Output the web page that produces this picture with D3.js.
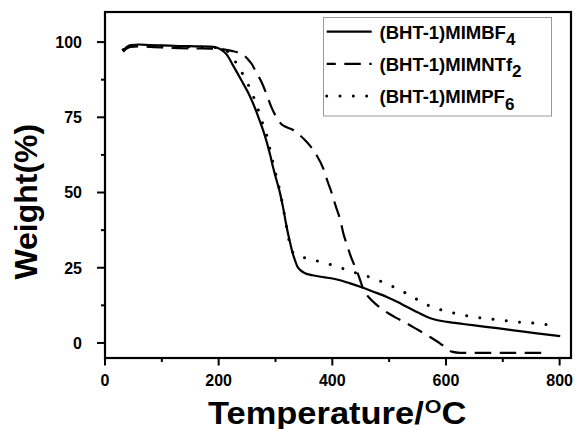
<!DOCTYPE html>
<html><head><meta charset="utf-8">
<script src="https://cdn.jsdelivr.net/npm/d3@7/dist/d3.min.js"></script>
<style>
html,body{margin:0;padding:0;background:#fff;}
text{font-family:"Liberation Sans",Arial,sans-serif;font-weight:bold;}
</style></head>
<body><svg id="c" width="577" height="429"></svg>
<script>
// ---- data ----
const xTicks = [0, 200, 400, 600, 800];
const xMinor = [100, 300, 500, 700];
const yTicks = [0, 25, 50, 75, 100];
const yMinor = [12.5, 37.5, 62.5, 87.5];

const bf4T = [32,38,45,60,80,100,130,160,185,196,205,214,226,240,255,263,270,278,285,291,296,302,308,314,318,321,326,330,334.5,338,343,352,365,380,395,410,430,449,470,496,515,531,550,566,580,602,630,660,690,719,760,801];
const bf4W = [97.0,98.3,99.0,99.2,99.0,98.9,98.7,98.6,98.5,98.2,97.4,95.9,92.0,87.3,82.0,78.5,75.0,70.8,66.5,62.2,58.2,54.0,49.8,44.4,40.2,37.3,33.1,30.0,27.4,25.6,24.3,23.2,22.5,22.0,21.6,21.0,19.9,18.7,17.2,15.3,13.6,12.0,10.2,8.7,7.8,7.0,6.3,5.6,4.9,4.2,3.2,2.3];

const ntfT = [32,38,45,60,80,100,130,160,190,211,225,235,243,250,258,266,276,285,293,300,311,321,331,340,350,361,372,384,392,399,406,414,420,426,433,440,447,455,465,477,490,510,531,552,572,590,602,610,625,700,780];
const ntfW = [96.8,97.8,98.4,98.6,98.4,98.2,98.0,97.9,97.8,97.5,97.0,96.5,95.9,94.6,92.8,90.0,86.5,82.3,78.3,75.6,72.6,71.6,70.8,69.5,67.8,65.5,62.5,58.0,53.5,49.8,45.5,40.9,36.0,32.5,28.5,25.3,22.0,17.6,15.0,12.8,10.9,8.6,6.5,4.2,2.0,-0.2,-1.9,-2.9,-3.3,-3.3,-3.3];

const pf6T = [32,38,45,60,80,100,130,160,190,205,215,225,233,246,261,270,276,285,290.5,296,302,308,314,320,326,331,337,346,372,396,422,446,472,496,522,549,572,597,622,646,672,696,722,748,772,797];
const pf6W = [97.5,98.3,98.8,98.9,98.8,98.6,98.4,98.3,98.2,98.0,97.0,94.8,92.4,88.1,82.0,77.3,73.7,68.7,64.2,59.5,55.0,50.3,44.5,38.0,32.3,30.0,29.2,28.6,27.3,26.1,24.5,23.0,21.5,19.6,17.3,14.5,12.2,10.7,9.6,8.7,8.1,7.6,7.0,6.7,6.2,5.6];

const seriesNames = ["(BHT-1)MIMBF", "(BHT-1)MIMNTf", "(BHT-1)MIMPF"];
const seriesSubs = ["4", "2", "6"];

// ---- chart ----
const svg = d3.select("#c");
const x = d3.scaleLinear().domain([0, 820]).range([105, 571]);
const y = d3.scaleLinear().domain([-5, 110]).range([358, 12]);

const styles = [
  {dash: null, width: 2.2, cap: "butt"},
  {dash: "16.5,8.5", width: 2.2, cap: "butt"},
  {dash: "0.01,13.3", width: 3, cap: "round"}
];
const series = [
  bf4T.map((t,i)=>[t,bf4W[i]]),
  ntfT.map((t,i)=>[t,ntfW[i]]),
  pf6T.map((t,i)=>[t,pf6W[i]])
];
const line = d3.line().x(d=>x(d[0])).y(d=>y(d[1])).curve(d3.curveMonotoneX);
series.forEach((s,i)=>{
  svg.append("path").attr("d", line(s)).attr("fill","none").attr("stroke","#000")
    .attr("stroke-width", styles[i].width).attr("stroke-linecap", styles[i].cap)
    .attr("stroke-dasharray", styles[i].dash);
});

// ticks (drawn via scales)
const tg = svg.append("g").attr("stroke","#000").attr("stroke-width",2);
xTicks.forEach(v=>tg.append("line").attr("x1",x(v)).attr("x2",x(v)).attr("y1",358).attr("y2",365.5));
xMinor.forEach(v=>tg.append("line").attr("x1",x(v)).attr("x2",x(v)).attr("y1",358).attr("y2",362));
yTicks.forEach(v=>tg.append("line").attr("x1",105).attr("x2",97).attr("y1",y(v)).attr("y2",y(v)));
yMinor.forEach(v=>tg.append("line").attr("x1",105).attr("x2",101).attr("y1",y(v)).attr("y2",y(v)));

const lab = svg.append("g").attr("fill","#000").style("font-size","16px");
xTicks.forEach(v=>lab.append("text").attr("x",x(v)).attr("y",385.8).attr("text-anchor","middle").text(d3.format("d")(v)));
yTicks.forEach(v=>lab.append("text").attr("x",82).attr("y",y(v)+5.8).attr("text-anchor","end").text(d3.format("d")(v)));

// frame
svg.append("rect").attr("x",105).attr("y",12).attr("width",466).attr("height",346)
  .attr("fill","none").attr("stroke","#000").attr("stroke-width",2.2);

// legend
const lg = svg.append("g");
lg.append("rect").attr("x",323.5).attr("y",17.5).attr("width",228).attr("height",98.5)
  .attr("fill","#fff").attr("stroke","#999").attr("stroke-width",1);
const rowY = [31.7, 63.8, 96];
seriesNames.forEach((n,i)=>{
  const ly = rowY[i];
  const l = lg.append("line").attr("x1",326.7).attr("x2",371.7).attr("y1",ly).attr("y2",ly)
    .attr("stroke","#000").attr("stroke-width",styles[i].width).attr("stroke-linecap",styles[i].cap)
    .attr("stroke-dasharray",styles[i].dash);
  if(i===1) l.attr("stroke-dashoffset",7.4);
  const t = lg.append("text").attr("x",379.5).attr("y",ly+6.8).style("font-size","18.5px").attr("fill","#000");
  t.append("tspan").text(n);
  t.append("tspan").attr("dy",6.8).style("font-size","17px").text(seriesSubs[i]);
});

// axis titles
svg.append("text").attr("text-anchor","middle")
  .attr("transform","translate(36.7,201.7) rotate(-90)")
  .style("font-size","32px").attr("fill","#000").text("Weight(%)");

const xtG = svg.append("g");
const xt = xtG.append("text").attr("x",0).attr("y",0).style("font-size","30.5px").attr("fill","#000");
xt.append("tspan").text("Temperature/");
xt.append("tspan").attr("dy",-11).attr("dx",1).style("font-size","19px").text("O");
xt.append("tspan").attr("dy",11).text("C");
const bb = xt.node().getBBox();
const sx = 258.5 / bb.width;
xtG.attr("transform",`translate(208,423.5) scale(${sx},1) translate(${-bb.x},0)`);
</script></body></html>
